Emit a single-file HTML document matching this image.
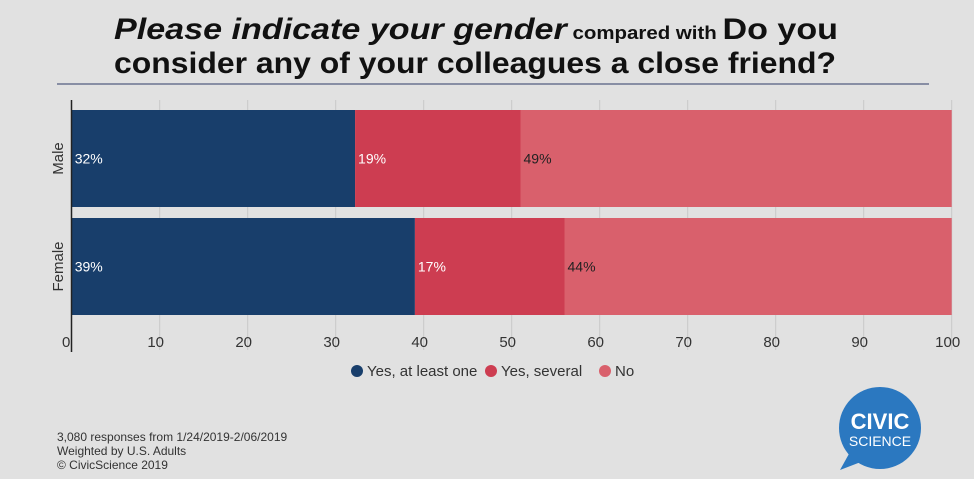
<!DOCTYPE html>
<html><head><meta charset="utf-8"><style>
body{margin:0;background:#e1e1e1;}
svg{display:block;font-family:"Liberation Sans",sans-serif;}
</style></head><body>
<svg id="chart" width="974" height="479" viewBox="0 0 974 479">
<rect width="974" height="479" fill="#e1e1e1"/>
<text x="114" y="39" font-size="30" font-weight="bold" fill="#111" textLength="724" lengthAdjust="spacingAndGlyphs"><tspan font-style="italic">Please indicate your gender</tspan><tspan font-size="18"> compared with </tspan><tspan>Do you</tspan></text>
<text x="114" y="73" font-size="30" font-weight="bold" fill="#111" textLength="722" lengthAdjust="spacingAndGlyphs">consider any of your colleagues a close friend?</text>
<line x1="57" y1="84" x2="929" y2="84" stroke="#6b7290" stroke-width="1.5"/>
<g id="grid"></g><g id="bars"></g><g id="labels"></g>
<line x1="71.5" y1="100" x2="71.5" y2="352" stroke="#222" stroke-width="1.5"/>
<g id="legend"></g>
<text x="57" y="441" font-size="12" fill="#333">3,080 responses from 1/24/2019-2/06/2019</text>
<text x="57" y="455" font-size="12" fill="#333">Weighted by U.S. Adults</text>
<text x="57" y="469" font-size="12" fill="#333">© CivicScience 2019</text>
<g>
<circle cx="880" cy="428" r="41" fill="#2b78c0"/>
<path d="M850 452 L840 470 L866 460 Z" fill="#2b78c0"/>
<text x="880" y="429" font-size="22" font-weight="bold" fill="#fff" text-anchor="middle">CIVIC</text>
<text x="880" y="446" font-size="14" fill="#fff" text-anchor="middle">SCIENCE</text>
</g>
</svg>
<script>
const categories=["Male","Female"];
const seriesNames=["Yes, at least one","Yes, several","No"];
const yesOne=[32.2,39];
const yesSeveral=[18.8,17];
const no=[49,44];
const labelsOne=["32%","39%"];
const labelsSeveral=["19%","17%"];
const labelsNo=["49%","44%"];
const ticks=[0,10,20,30,40,50,60,70,80,90,100];
const colors=["#183e6b","#cd3d51","#d9606c"];
const textColors=["#fff","#fff","#222"];
const NS="http://www.w3.org/2000/svg";
const x=v=>71.7+v*8.8;
const yTop=[110,218], bh=97;
function mk(t,a,p){const e=document.createElementNS(NS,t);for(const k in a)e.setAttribute(k,a[k]);p.appendChild(e);return e;}
const grid=document.getElementById('grid'),bars=document.getElementById('bars'),lab=document.getElementById('labels'),leg=document.getElementById('legend');
ticks.forEach(t=>{
 if(t>0){const l=mk('line',{x1:x(t),x2:x(t),y1:100,y2:350,stroke:'#c8c8c8','stroke-width':1},grid);
 
 }
 const tx=mk('text',{x:t===0?62:x(t)-4,y:347,'font-size':15,fill:'#333','text-anchor':t===0?'start':'middle'},grid);
 tx.textContent=t;
 
 
});
const series=[yesOne,yesSeveral,no],sl=[labelsOne,labelsSeveral,labelsNo];
categories.forEach((c,i)=>{
 let acc=0;
 series.forEach((s,j)=>{
  const r=mk('rect',{x:x(acc),y:yTop[i],width:x(acc+s[i])-x(acc),height:bh,fill:colors[j]},bars);
  
  
  const t=mk('text',{x:x(acc)+3,y:yTop[i]+bh/2+5,'font-size':14,fill:textColors[j]},lab);
  t.textContent=sl[j][i];
  
  
  acc+=s[i];
 });
 const cl=mk('text',{x:0,y:0,'font-size':15,fill:'#333','text-anchor':'middle',transform:`translate(63,${yTop[i]+bh/2}) rotate(-90)`},lab);
 cl.textContent=c;
 
 
});
const lx=[357,491,605];
seriesNames.forEach((n,j)=>{
 const c=mk('circle',{cx:lx[j],cy:371,r:6,fill:colors[j]},leg);
 
 
 const t=mk('text',{x:lx[j]+10,y:376,'font-size':15,fill:'#333'},leg);
 t.textContent=n;
 
 
});
</script>
</body></html>
